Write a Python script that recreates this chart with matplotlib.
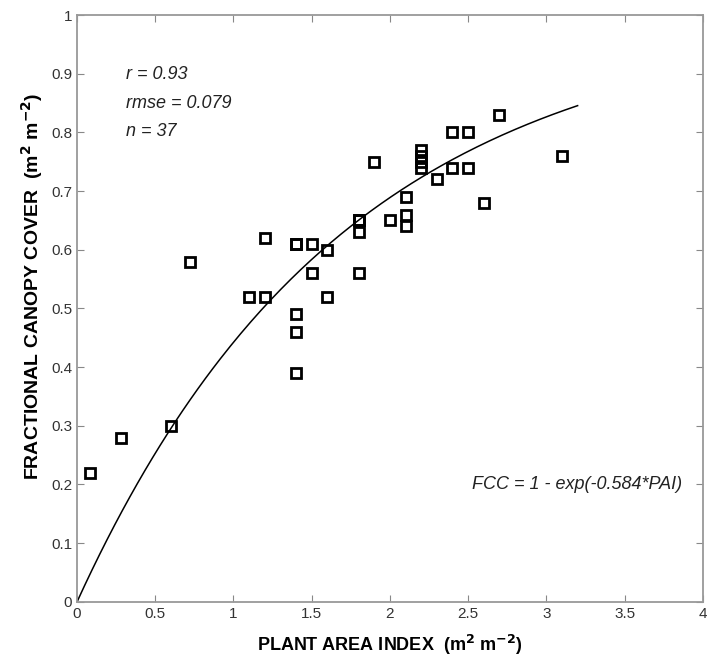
import matplotlib.pyplot as plt
import numpy as np

plt.rcParams['font.family'] = ['Liberation Sans', 'DejaVu Sans']

pai = [0.08, 0.28, 0.6, 0.72, 1.1, 1.2, 1.2, 1.4, 1.4, 1.4, 1.4, 1.5, 1.5,
       1.6, 1.6, 1.8, 1.8, 1.8, 1.8, 1.9, 2.0, 2.1, 2.1, 2.1, 2.2, 2.2, 2.2,
       2.2, 2.3, 2.4, 2.4, 2.5, 2.5, 2.6, 2.7, 3.1, 1.4]
fcc = [0.22, 0.28, 0.30, 0.58, 0.52, 0.52, 0.62, 0.61, 0.49, 0.46, 0.39, 0.61, 0.56,
       0.60, 0.52, 0.65, 0.63, 0.56, 0.65, 0.75, 0.65, 0.69, 0.66, 0.64, 0.77, 0.76, 0.75,
       0.74, 0.72, 0.80, 0.74, 0.80, 0.74, 0.68, 0.83, 0.76, 0.61]
k = 0.584

fig = plt.figure(figsize=(7.07, 6.57), dpi=100)
ax = fig.add_axes([0.109, 0.084, 0.885, 0.893])

xf = np.linspace(0, 3.2, 200)
ax.plot(xf, 1 - np.exp(-k * xf), color='black', lw=1.1)
ax.plot(pai, fcc, 's', mfc='none', mec='black', ms=6.5, mew=2)

ax.set_xlim(0, 4)
ax.set_ylim(0, 1)
ax.set_xticks(np.arange(0, 4.01, 0.5))
ax.set_xticklabels(['0', '0.5', '1', '1.5', '2', '2.5', '3', '3.5', '4'])
ax.set_yticks(np.arange(0, 1.01, 0.1))
ax.set_yticklabels(['0', '0.1', '0.2', '0.3', '0.4', '0.5', '0.6', '0.7', '0.8', '0.9', '1'])
ax.tick_params(direction='in', top=True, right=True, labelsize=11,
               color='#888888', length=5, labelcolor='#333333')
for s in ax.spines.values():
    s.set_color('#999999')
    s.set_linewidth(1.3)

ax.set_xlabel('PLANT AREA INDEX  (m$^{\\mathbf{2}}$ m$^{\\mathbf{-2}}$)',
              fontsize=13, fontweight='bold', labelpad=9)
ax.set_ylabel('FRACTIONAL CANOPY COVER  (m$^{\\mathbf{2}}$ m$^{\\mathbf{-2}}$)',
              fontsize=14, fontweight='bold')
ax.yaxis.set_label_coords(-0.052, 0.538)

ax.text(0.31, 0.898, 'r = 0.93', style='italic', fontsize=13, va='center', color='#222222')
ax.text(0.31, 0.850, 'rmse = 0.079', style='italic', fontsize=13, va='center', color='#222222')
ax.text(0.31, 0.802, 'n = 37', style='italic', fontsize=13, va='center', color='#222222')
ax.text(3.87, 0.20, 'FCC = 1 - exp(-0.584*PAI)', style='italic', fontsize=13,
        ha='right', va='center', color='#222222')

fig.savefig('out.png', dpi=100)
